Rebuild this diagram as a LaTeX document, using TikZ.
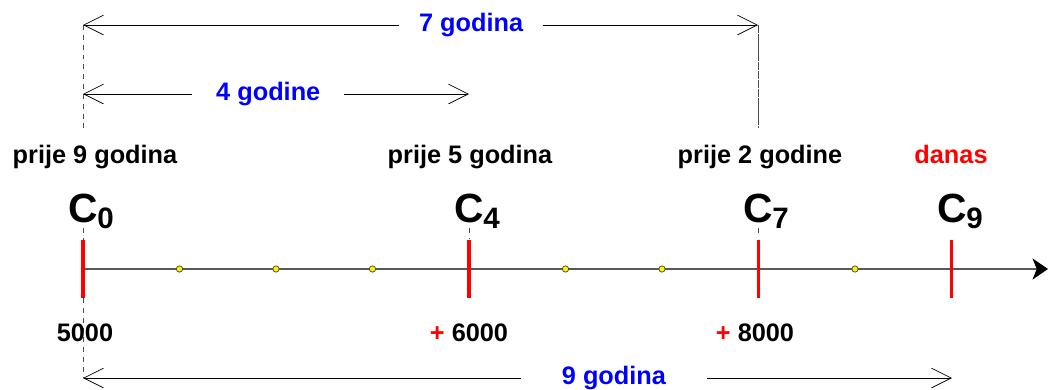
\documentclass[tikz,border=0pt]{standalone}
\usepackage{fontspec}
\setmainfont{Liberation Sans}
\usetikzlibrary{arrows.meta, positioning}

\newcommand{\cval}[1]{C\raisebox{-0.3ex}{\fontsize{21}{21}\selectfont #1}}

\begin{document}
\begin{tikzpicture}[x=0.025cm, y=-0.025cm, outer sep=0pt, font=\fontsize{18}{20}\selectfont\bfseries]
    \tikzstyle{tick} = [red, line width=2.2pt]
    \tikzstyle{yeardot} = [circle, draw=black!75, fill=yellow, inner sep=0pt, minimum size=4.5pt, line width=0.5pt]
    \tikzstyle{span} = [black, line width=0.5pt, {Straight Barb[length=14pt, width=14pt]}-{Straight Barb[length=14pt, width=14pt]}]
    \tikzstyle{spanlabel} = [blue, fill=white, inner xsep=14pt, inner ysep=2pt]
    \tikzstyle{guide} = [black!70, line width=0.5pt, dash pattern=on 3.5pt off 3.5pt]
    \tikzstyle{clabel} = [font=\fontsize{29}{30}\selectfont\bfseries, anchor=base west, inner sep=0pt]
    \tikzstyle{when} = [anchor=base, inner sep=0pt]

    \useasboundingbox (0,0) rectangle (1048,389);

    % vremenska os
    \coordinate (start) at (83,269);
    \coordinate (end) at (1048,269);
    \foreach \i in {0,...,9} \coordinate (y\i) at (83+96.5*\i,269);

    % vodilice
    \coordinate (g0a) at (83,25);   \coordinate (g0b) at (83,128);
    \coordinate (g0c) at (83,228);  \coordinate (g0d) at (83,240);
    \coordinate (g0e) at (83,298);  \coordinate (g0f) at (83,378);
    \coordinate (g4a) at (469,228); \coordinate (g4b) at (469,238);
    \coordinate (g7a) at (758,25);  \coordinate (g7b) at (758,128);
    \coordinate (g7c) at (758,228); \coordinate (g7d) at (758,235);
    \draw[guide] (g0a) -- (g0b);
    \draw[guide] (g0c) -- (g0d);
    \draw[guide] (g0e) -- (g0f);
    \draw[guide] (g4a) -- (g4b);
    \draw[guide, dash pattern=on 6pt off 0.5pt] (g7a) -- (g7b);
    \draw[guide] (g7c) -- (g7d);

    \draw[black!65, line width=1pt, -{Stealth[length=11pt, width=15pt, inset=3pt, black]}] (start) -- (end);
    \foreach \i in {1,2,3,5,6,8} \node[yeardot] (d\i) at (y\i) {};
    \foreach \i in {0,4,7,9} \draw[tick] (y\i) ++(0,-29) -- ++(0,58);

    % oznake
    \node[clabel] (c0) at (68,222) {\cval{0}};
    \node[clabel] (c4) at (454,222) {\cval{4}};
    \node[clabel] (c7) at (743,222) {\cval{7}};
    \node[clabel] (c9) at (937,222) {\cval{9}};

    \node[when] (w0) at (95,163) {prije 9 godina};
    \node[when] (w4) at (470,163) {prije 5 godina};
    \node[when] (w7) at (760,163) {prije 2 godine};
    \node[when, red] (w9) at (951,163) {danas};

    \node[when] (v0) at (85,341) {5000};
    \node[when] (v4) at (469,341) {\textcolor{red}{+} 6000};
    \node[when] (v7) at (755,341) {\textcolor{red}{+} 8000};

    % razdoblja
    \coordinate (s7a) at (83,25);  \coordinate (s7b) at (758,25);
    \coordinate (s4a) at (83,94);  \coordinate (s4b) at (469,94);
    \coordinate (s9a) at (83,378); \coordinate (s9b) at (952,378);
    \draw[span] (s7a) -- (s7b) node[pos=0.575, spanlabel] (l7) {7 godina};
    \draw[span] (s4a) -- (s4b) node[pos=0.48, spanlabel, inner xsep=17pt] (l4) {4 godine};
    \draw[span] (s9a) -- (s9b) node[pos=0.611, spanlabel, inner xsep=29pt] (l9) {9 godina};
\end{tikzpicture}
\end{document}
